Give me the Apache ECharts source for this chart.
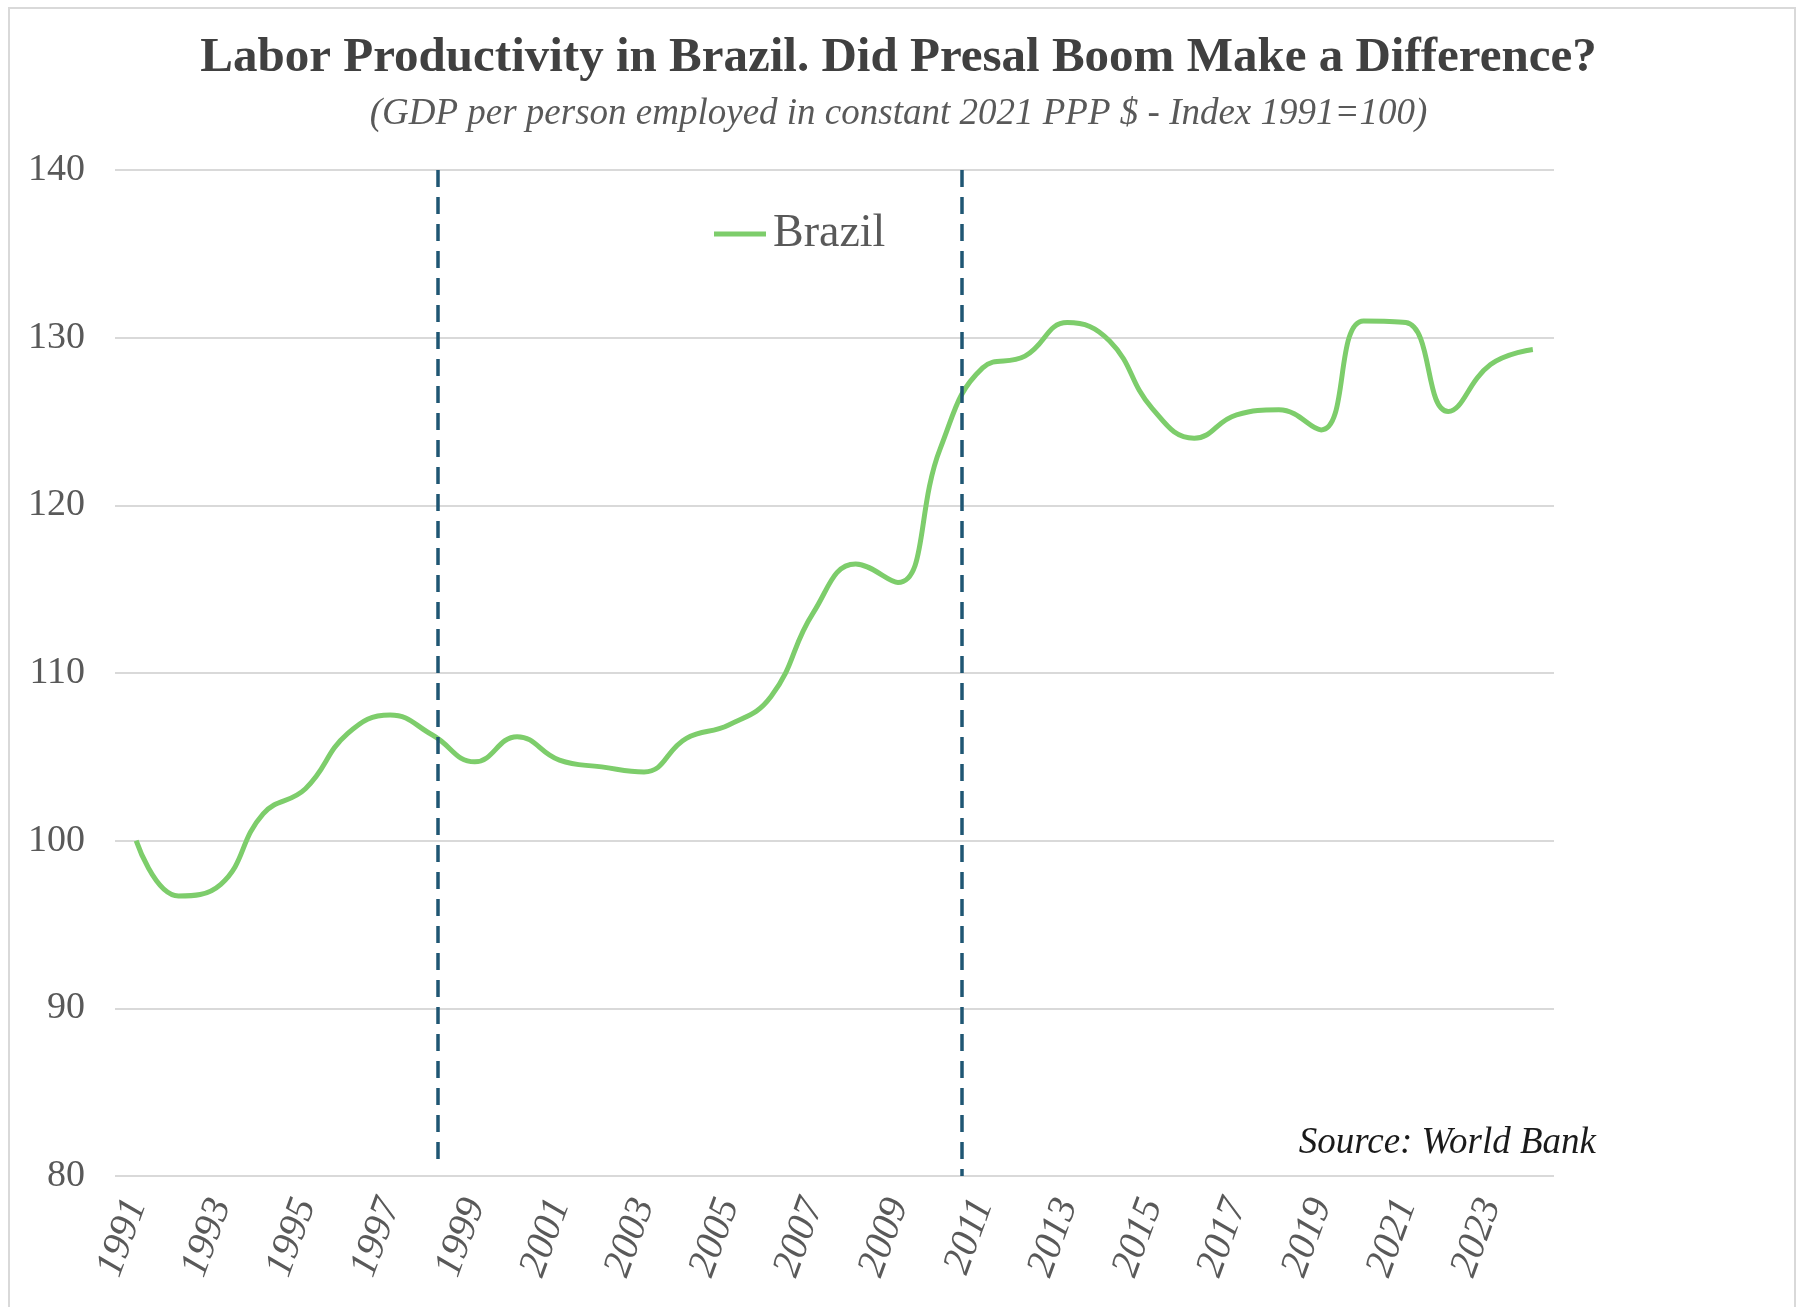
<!DOCTYPE html>
<html>
<head>
<meta charset="utf-8">
<script src="https://cdn.jsdelivr.net/npm/echarts@6/dist/echarts.min.js"></script>
<style>
  html, body { margin: 0; padding: 0; background: #fff; }
  #chart { width: 1797px; height: 1307px; }
</style>
</head>
<body>
<div id="chart"></div>
<script>
// ---- data ----
const years = ['1991','1992','1993','1994','1995','1996','1997','1998','1999','2000',
  '2001','2002','2003','2004','2005','2006','2007','2008','2009','2010',
  '2011','2012','2013','2014','2015','2016','2017','2018','2019','2020',
  '2021','2022','2023','2024'];
const brazil = [100.0, 96.7, 97.4, 101.6, 103.1, 106.4, 107.5, 106.3, 104.7, 106.2,
  104.8, 104.4, 104.1, 106.1, 106.9, 108.6, 113.6, 116.5, 115.4, 123.4,
  128.2, 128.9, 130.9, 129.8, 125.8, 124.0, 125.4, 125.7, 124.5, 131.0,
  130.9, 125.6, 128.4, 129.3];
// dashed reference lines (year position, top value, bottom value)
const markerYears = [1998.12, 2010.5];
const markerTops = [140.0, 140.0];
const markerBottoms = [80.47, 80.0];
const yTicks = { min: 80, max: 140, interval: 10 };
const titleText = 'Labor Productivity in Brazil. Did Presal Boom Make a Difference?';
const subtitleText = '(GDP per person employed in constant 2021 PPP $ - Index 1991=100)';
const sourceText = 'Source: World Bank';

const serif = '"Liberation Serif", "DejaVu Serif", serif';
const firstYear = Number(years[0]);

const chart = echarts.init(document.getElementById('chart'), null, { renderer: 'canvas' });
chart.setOption({
  backgroundColor: '#ffffff',
  animation: false,
  title: [
    { text: titleText, left: 'center', top: 29,
      textStyle: { fontFamily: serif, fontSize: 49, fontWeight: 'bold', color: '#404040' } },
    { text: subtitleText, left: 'center', top: 91,
      textStyle: { fontFamily: serif, fontSize: 37, fontStyle: 'italic', fontWeight: 'normal', color: '#595959' } },
    { text: sourceText, right: 196, top: 1120,
      textStyle: { fontFamily: serif, fontSize: 37, fontStyle: 'italic', fontWeight: 'normal', color: '#1a1a1a' } }
  ],
  legend: {
    left: 709, top: 206,
    icon: 'rect', itemWidth: 52, itemHeight: 5, itemGap: 6,
    data: ['Brazil'],
    textStyle: { fontFamily: serif, fontSize: 46, color: '#595959', padding: [0, 0, 0, 2] }
  },
  graphic: [{
    type: 'rect', silent: true, z: -10,
    shape: { x: 9, y: 8, width: 1786, height: 1320 },
    style: { fill: 'none', stroke: '#d9d9d9', lineWidth: 2 }
  }],
  grid: { left: 115, right: 243, top: 170, bottom: 131, containLabel: false },
  xAxis: [{
    type: 'category', data: years, boundaryGap: true,
    axisLine: { show: false }, axisTick: { show: false },
    axisLabel: { interval: 1, rotate: 70, margin: 24, fontFamily: serif, fontSize: 40,
      fontStyle: 'italic', color: '#595959' },
    splitLine: { show: false }
  }, {
    type: 'value', min: -0.5, max: years.length - 0.5, show: false
  }],
  yAxis: {
    type: 'value', min: yTicks.min, max: yTicks.max, interval: yTicks.interval,
    axisLine: { show: false }, axisTick: { show: false },
    axisLabel: { margin: 30, fontFamily: serif, fontSize: 38, color: '#595959' },
    splitLine: { lineStyle: { color: '#d9d9d9', width: 2 } }
  },
  series: [{
    name: 'Brazil', type: 'line', data: brazil, smooth: 0.45,
    showSymbol: false, symbol: 'none',
    lineStyle: { color: '#7dcd6b', width: 5 },
    itemStyle: { color: '#7dcd6b' }
  }, {
    name: 'markers', type: 'line', xAxisIndex: 1, silent: true,
    data: markerYears.map(yr => [yr - firstYear, null]),
    showSymbol: false, symbol: 'none', lineStyle: { opacity: 0 },
    markLine: {
      silent: true, symbol: ['none', 'none'], animation: false,
      label: { show: false },
      lineStyle: { color: '#1f5673', width: 3.5, type: [17, 10] },
      data: markerYears.map((yr, i) => [
        { coord: [yr - firstYear, markerTops[i]] },
        { coord: [yr - firstYear, markerBottoms[i]] }
      ])
    }
  }]
});
</script>
</body>
</html>
